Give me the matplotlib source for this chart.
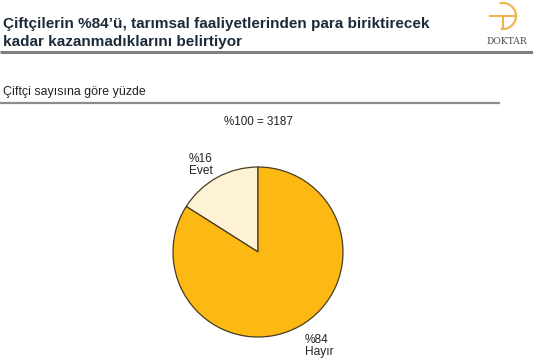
import numpy as np
import matplotlib.pyplot as plt
from matplotlib.patches import Arc

plt.rcParams['font.family'] = ['Liberation Sans', 'DejaVu Sans']

# Veriler
labels = ['Evet', 'Hayır']
values = [16, 84]
colors = ['#FDF2D3', '#FDB913']
total_n = 3187

title = 'Çiftçilerin %84’ü, tarımsal faaliyetlerinden para biriktirecek\nkadar kazanmadıklarını belirtiyor'
subtitle = 'Çiftçi sayısına göre yüzde'

W, H = 533, 363
fig = plt.figure(figsize=(W / 100, H / 100), dpi=100)
fig.patch.set_facecolor('white')

# Sayfa düzeni için piksel koordinatlı eksen
bg = fig.add_axes([0, 0, 1, 1])
bg.set_xlim(0, W)
bg.set_ylim(H, 0)
bg.axis('off')

bg.text(3, 33, title, fontsize=10.95, fontweight='bold', color='#1C2B3A',
        va='center', ha='left', linespacing=1.42)
bg.plot([0, W], [52, 52], color='#7F7F7F', lw=2.2, solid_capstyle='butt')

bg.text(3, 92, subtitle, fontsize=8.9, color='#222222', va='center', ha='left')
bg.plot([0, 500], [103, 103], color='#8C8C8C', lw=1.6, solid_capstyle='butt')

bg.text(258, 122, '%100 = ' + str(total_n), fontsize=8.4, color='#222222',
        va='center', ha='center')

# Logo
gold = '#EAB54D'
bg.add_patch(Arc((503, 16), 26, 26, theta1=-105, theta2=100, color=gold, lw=1.5))
bg.plot([490, 515], [16, 16], color=gold, lw=1.5)
bg.plot([503, 503], [16, 29], color=gold, lw=1.5)
bg.text(507, 44, 'DOKTAR', fontsize=6.6, family='DejaVu Serif', color='#4A4A4A',
        va='baseline', ha='center')

# Pasta grafiği
ax = fig.add_axes([173 / W, (H - 337) / H, 170 / W, 170 / H])
ax.pie(values, colors=colors, startangle=90, counterclock=True,
       wedgeprops=dict(edgecolor='#4A3B22', linewidth=0.9))
ax.set_xlim(-1, 1)
ax.set_ylim(-1, 1)
ax.set_aspect('equal')

bg.text(189, 165, '%16\n' + labels[0], fontsize=8.6, color='#222222',
        va='center', ha='left', linespacing=1.05)
bg.text(305, 346, '%84\n' + labels[1], fontsize=8.6, color='#222222',
        va='center', ha='left', linespacing=1.05)

fig.savefig('out.png', dpi=100)
